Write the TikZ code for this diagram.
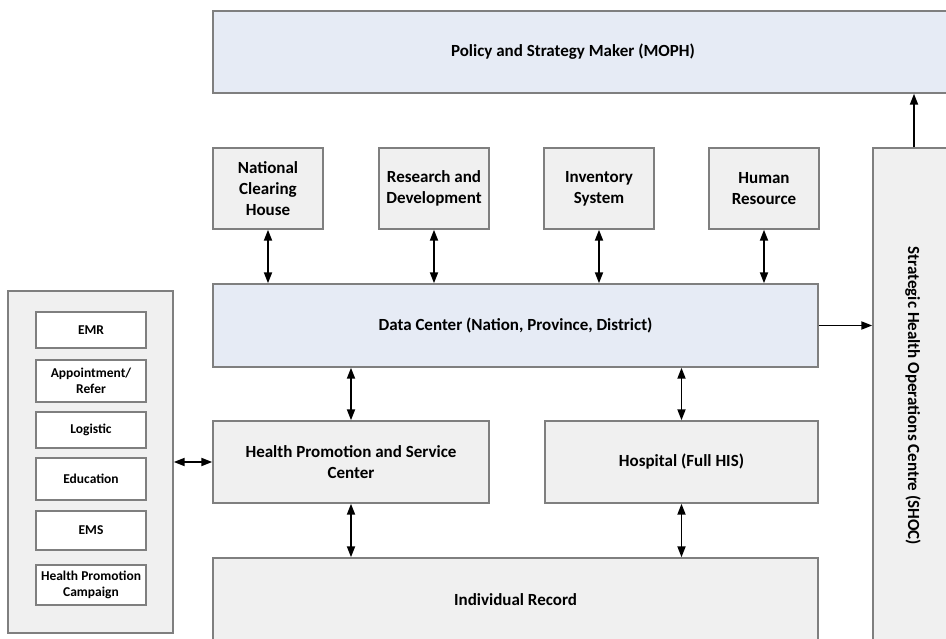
\documentclass[tikz,border=0pt]{standalone}
\usepackage{fontspec}
\setmainfont{Carlito}
\usetikzlibrary{arrows.meta}
\definecolor{bluefill}{HTML}{E6EBF5}
\definecolor{grayfill}{HTML}{F0F0F0}
\definecolor{edgegray}{HTML}{7F7F7F}
\begin{document}
\begin{tikzpicture}[x=1pt,y=-1pt,
  box/.style={draw=edgegray, line width=1.4pt, fill=grayfill, inner sep=0pt, align=center,
    font=\bfseries\fontsize{17}{21}\selectfont},
  bluebox/.style={box, fill=bluefill},
  smallbox/.style={draw=edgegray, line width=1.3pt, fill=white, inner sep=0pt, align=center,
    minimum width=110pt, font=\bfseries\fontsize{13.5}{16}\selectfont},
  lbl/.style={inner sep=0pt, align=center, font=\bfseries\fontsize{17}{21}\selectfont},
  darr/.style={line width=1.8pt, {Triangle[length=11pt,width=8pt]}-{Triangle[length=11pt,width=8pt]}},
  sarr/.style={line width=1.8pt, -{Triangle[length=11pt,width=8pt]}}
]
\useasboundingbox (0,0) rectangle (946,639);
\clip (0,0) rectangle (946,639);

% top policy box
\node[bluebox, minimum width=747pt, minimum height=82pt] (moph) at (586.5,52) {};
\node[lbl] (mophtxt) at (573,52) {Policy and Strategy Maker (MOPH)};

% upper small boxes
\node[box, minimum width=110pt, minimum height=81pt] (nch) at (268,188.5) {National\\Clearing\\House};
\node[box, minimum width=110pt, minimum height=81pt] (rd) at (434,188.5) {Research and\\Development};
\node[box, minimum width=110pt, minimum height=81pt] (inv) at (599,188.5) {Inventory\\System};
\node[box, minimum width=110pt, minimum height=81pt] (hr) at (764,188.5) {Human\\Resource};

% data center
\node[bluebox, minimum width=605pt, minimum height=83pt] (dc) at (515.5,325.5) {Data Center (Nation, Province, District)};

% SHOC
\node[box, minimum width=82pt, minimum height=497pt] (shoc) at (914,396.5) {};
\node[lbl, rotate=-90] (shoctxt) at (913,396) {Strategic Health Operations Centre (SHOC)};

% service row
\node[box, minimum width=276pt, minimum height=82pt] (hpsc) at (351,462) {Health Promotion and Service\\Center};
\node[box, minimum width=273pt, minimum height=82pt] (hosp) at (681.5,462) {Hospital (Full HIS)};

% individual record
\node[box, minimum width=605pt, minimum height=87pt] (ir) at (515.5,601.5) {};
\node[lbl] (irtxt) at (515.5,600) {Individual Record};

% left panel
\node[box, minimum width=165pt, minimum height=342pt] (panel) at (90.5,462) {};
\node[smallbox, minimum height=36pt] (emr) at (91,330) {EMR};
\node[smallbox, minimum height=42pt] (appt) at (91,381) {Appointment/\\Refer};
\node[smallbox, minimum height=36pt] (logi) at (91,430) {Logistic};
\node[smallbox, minimum height=42pt] (edu) at (91,479) {Education};
\node[smallbox, minimum height=39pt] (ems) at (91,530.5) {EMS};
\node[smallbox, minimum height=40pt] (hpc) at (91,585) {Health Promotion\\Campaign};

% connectors
\draw[darr] (nch.south) -- (nch.south |- dc.north);
\draw[darr] (rd.south) -- (rd.south |- dc.north);
\draw[darr] (inv.south) -- (inv.south |- dc.north);
\draw[darr] (hr.south) -- (hr.south |- dc.north);
\draw[sarr] (dc.east) -- (shoc.west |- dc.east);
\draw[sarr] (shoc.north) -- (shoc.north |- moph.south);
\draw[darr] (dc.south -| hpsc.north) -- (hpsc.north);
\draw[darr] (dc.south -| hosp.north) -- (hosp.north);
\draw[darr] (hpsc.south) -- (hpsc.south |- ir.north);
\draw[darr] (hosp.south) -- (hosp.south |- ir.north);
\draw[darr] (panel.east) -- (hpsc.west);
\end{tikzpicture}
\end{document}
